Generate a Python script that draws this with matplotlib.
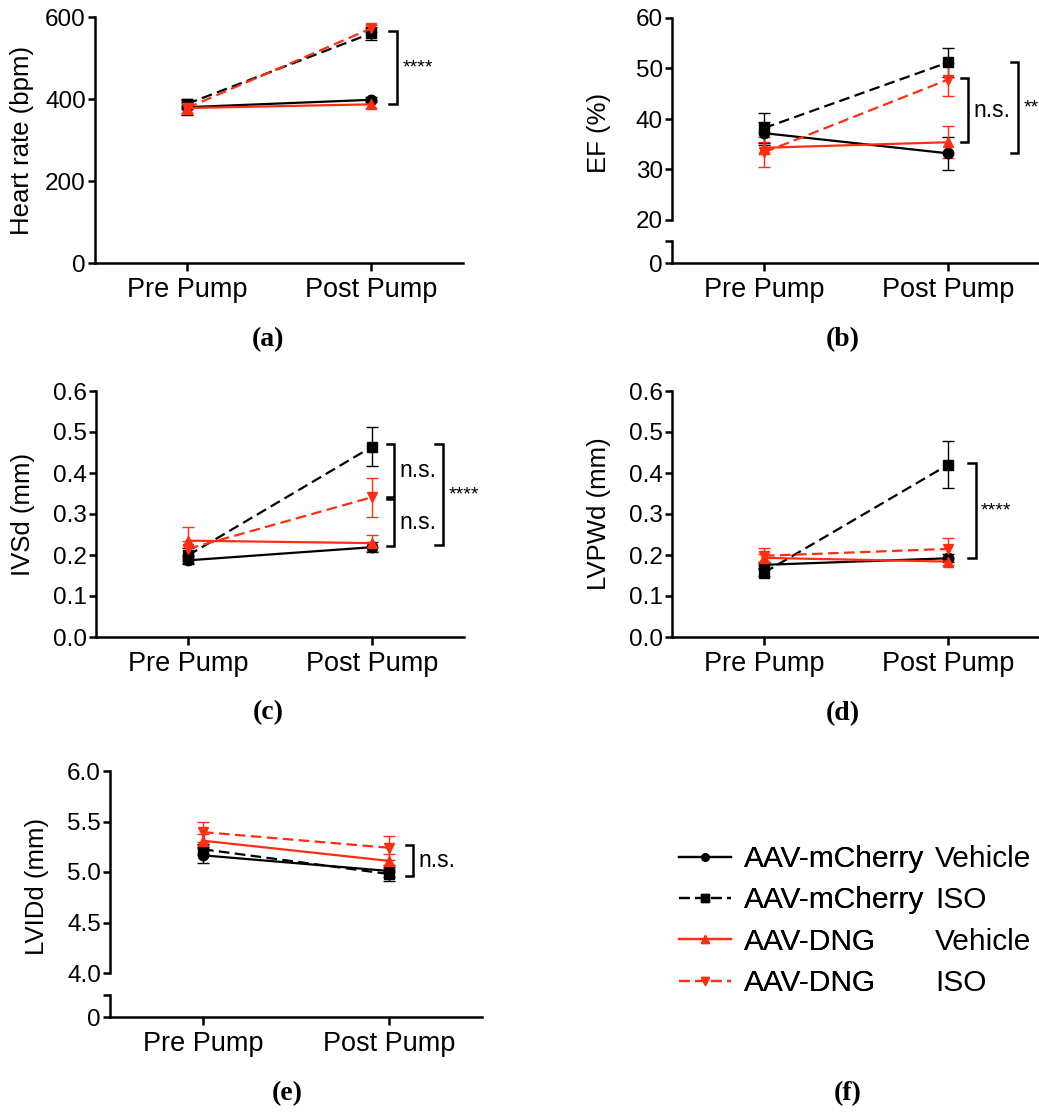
import numpy as np
import matplotlib
matplotlib.use("Agg")
import matplotlib.pyplot as plt
from matplotlib.ticker import FormatStrFormatter

plt.rcParams['font.family'] = ['Liberation Sans', 'DejaVu Sans']

W, H = 1039, 1113

timepoints = ['Pre Pump', 'Post Pump']
group_names = ['AAV-mCherry', 'AAV-mCherry', 'AAV-DNG', 'AAV-DNG']
treatments = ['Vehicle', 'ISO', 'Vehicle', 'ISO']

# mean [pre, post] and SEM for each group (mCherry veh, mCherry ISO, DNG veh, DNG ISO)
hr_mean = [[380, 398], [388, 560], [378, 387], [378, 572]]
hr_sem = [[18, 6], [12, 16], [15, 9], [12, 9]]

ef_mean = [[37.2, 33.2], [38.2, 51.2], [34.3, 35.4], [33.4, 47.8]]
ef_sem = [[2.3, 3.3], [2.9, 2.9], [1.2, 3.2], [3.0, 3.3]]

ivsd_mean = [[0.187, 0.219], [0.199, 0.464], [0.235, 0.229], [0.215, 0.341]]
ivsd_sem = [[0.010, 0.012], [0.018, 0.047], [0.034, 0.020], [0.020, 0.048]]

lvpwd_mean = [[0.176, 0.192], [0.157, 0.420], [0.193, 0.184], [0.198, 0.215]]
lvpwd_sem = [[0.008, 0.010], [0.008, 0.057], [0.010, 0.008], [0.018, 0.026]]

lvidd_mean = [[5.165, 5.010], [5.225, 4.980], [5.310, 5.110], [5.395, 5.240]]
lvidd_sem = [[0.08, 0.06], [0.05, 0.07], [0.07, 0.07], [0.10, 0.12]]

# significance brackets: (low, high, x position, text)
hr_brackets = [(388, 565, 1.14, '****')]
ef_brackets = [(35.4, 48.1, 1.11, 'n.s.'), (33.2, 51.2, 1.38, '**')]
ivsd_brackets = [(0.341, 0.470, 1.12, 'n.s.'), (0.221, 0.337, 1.12, 'n.s.'),
                 (0.224, 0.470, 1.385, '****')]
lvpwd_brackets = [(0.193, 0.424, 1.15, '****')]
lvidd_brackets = [(4.96, 5.27, 1.13, 'n.s.')]

RED = '#ff2d12'
colors = ['black', 'black', RED, RED]
markers = ['o', 's', '^', 'v']
styles = ['-', (0, (4.8, 2.4)), '-', (0, (4.8, 2.4))]

fig = plt.figure(figsize=(W / 100, H / 100), dpi=100)


def px_axes(left, top, right, bottom):
    return fig.add_axes([left / W, 1 - bottom / H, (right - left) / W, (bottom - top) / H])


def style(ax):
    for s in ['top', 'right']:
        ax.spines[s].set_visible(False)
    for s in ['left', 'bottom']:
        ax.spines[s].set_linewidth(1.8)
    ax.tick_params(axis='y', length=5, width=1.8, labelsize=17.5, pad=1.5)
    ax.tick_params(axis='x', length=6, width=1.8, labelsize=19.5, pad=4)
    ax.set_xlim(-0.5, 1.5)


def draw_groups(ax, means, sems):
    x = np.arange(len(timepoints))
    handles = []
    for i in range(len(means)):
        h = ax.errorbar(x, means[i], yerr=sems[i], color=colors[i], marker=markers[i],
                        ls=styles[i], lw=1.6, ms=7.5, elinewidth=1.0, capsize=4.5,
                        capthick=1.0, clip_on=False, zorder=3)
        handles.append(h[0])
    return handles


def draw_brackets(ax, brackets):
    for lo, hi, xb, txt in brackets:
        arm = 0.04
        ax.plot([xb - arm, xb, xb, xb - arm], [hi, hi, lo, lo], color='black',
                lw=1.8, clip_on=False, solid_joinstyle='miter')
        fs = 14 if '*' in txt else 16.5
        ax.text(xb + 0.03, (lo + hi) / 2, txt, fontsize=fs, ha='left', va='center')


def set_xaxis(ax):
    ax.set_xticks(np.arange(len(timepoints)))
    ax.set_xticklabels(timepoints)


def plain_panel(box, means, sems, brackets, ylim, yticks, fmt, ylabel):
    ax = px_axes(*box)
    style(ax)
    handles = draw_groups(ax, means, sems)
    ax.set_ylim(*ylim)
    ax.set_yticks(yticks)
    ax.yaxis.set_major_formatter(FormatStrFormatter(fmt))
    set_xaxis(ax)
    ax.set_ylabel(ylabel, fontsize=18.5)
    ax.yaxis.set_label_coords(-61 / (box[2] - box[0]), 0.5)
    draw_brackets(ax, brackets)
    return handles


def broken_panel(top_box, low_box, means, sems, brackets, ylim, yticks, fmt, ylabel):
    ax = px_axes(*top_box)
    style(ax)
    ax.spines['bottom'].set_visible(False)
    ax.tick_params(axis='x', bottom=False, labelbottom=False)
    draw_groups(ax, means, sems)
    ax.set_ylim(*ylim)
    ax.set_yticks(yticks)
    ax.yaxis.set_major_formatter(FormatStrFormatter(fmt))
    ax.set_ylabel(ylabel, fontsize=18.5)
    ax.yaxis.set_label_coords(-61 / (top_box[2] - top_box[0]), 0.43)
    draw_brackets(ax, brackets)

    low = px_axes(*low_box)
    style(low)
    low.set_ylim(0, 1)
    low.set_yticks([0, 1])
    low.set_yticklabels(['0', ''])
    set_xaxis(low)
    low.patch.set_alpha(0)


handles = plain_panel((95, 17, 463, 263), hr_mean, hr_sem, hr_brackets,
                      (0, 600), [0, 200, 400, 600], '%d', 'Heart rate (bpm)')
broken_panel((672, 18, 1040, 220), (672, 241, 1040, 263), ef_mean, ef_sem, ef_brackets,
             (20, 60), [20, 30, 40, 50, 60], '%d', 'EF (%)')
plain_panel((96, 391, 464, 637), ivsd_mean, ivsd_sem, ivsd_brackets,
            (0, 0.6), np.arange(0, 0.61, 0.1), '%.1f', 'IVSd (mm)')
plain_panel((672, 391, 1040, 637), lvpwd_mean, lvpwd_sem, lvpwd_brackets,
            (0, 0.6), np.arange(0, 0.61, 0.1), '%.1f', 'LVPWd (mm)')
broken_panel((110, 771, 482, 973), (110, 995, 482, 1017), lvidd_mean, lvidd_sem, lvidd_brackets,
             (4.0, 6.0), [4.0, 4.5, 5.0, 5.5, 6.0], '%.1f', 'LVIDd (mm)')

# legend in two columns: group name, then treatment
leg_kw = dict(loc='upper left', frameon=False, fontsize=21.5, labelspacing=0.45,
              borderpad=0, borderaxespad=0)
leg1 = fig.legend(handles, group_names, bbox_to_anchor=(679 / W, 1 - 845 / H),
                  handlelength=1.75, handletextpad=0.42, markerscale=0.7, **leg_kw)
fig.add_artist(leg1)
fig.legend([plt.Line2D([], [], ls='none')] * 4, treatments,
           bbox_to_anchor=(935 / W, 1 - 845 / H), handlelength=0, handletextpad=0, **leg_kw)

panel_labels = ['(a)', '(b)', '(c)', '(d)', '(e)', '(f)']
label_pos = [(268, 340), (843, 340), (268, 713), (843, 714), (287, 1094), (848, 1094)]
for lab, (px, py) in zip(panel_labels, label_pos):
    fig.text(px / W, 1 - py / H, lab, ha='center', va='center', fontsize=20,
             fontweight='bold', family=['Liberation Serif', 'DejaVu Serif'])

fig.savefig('out.png', dpi=100)
